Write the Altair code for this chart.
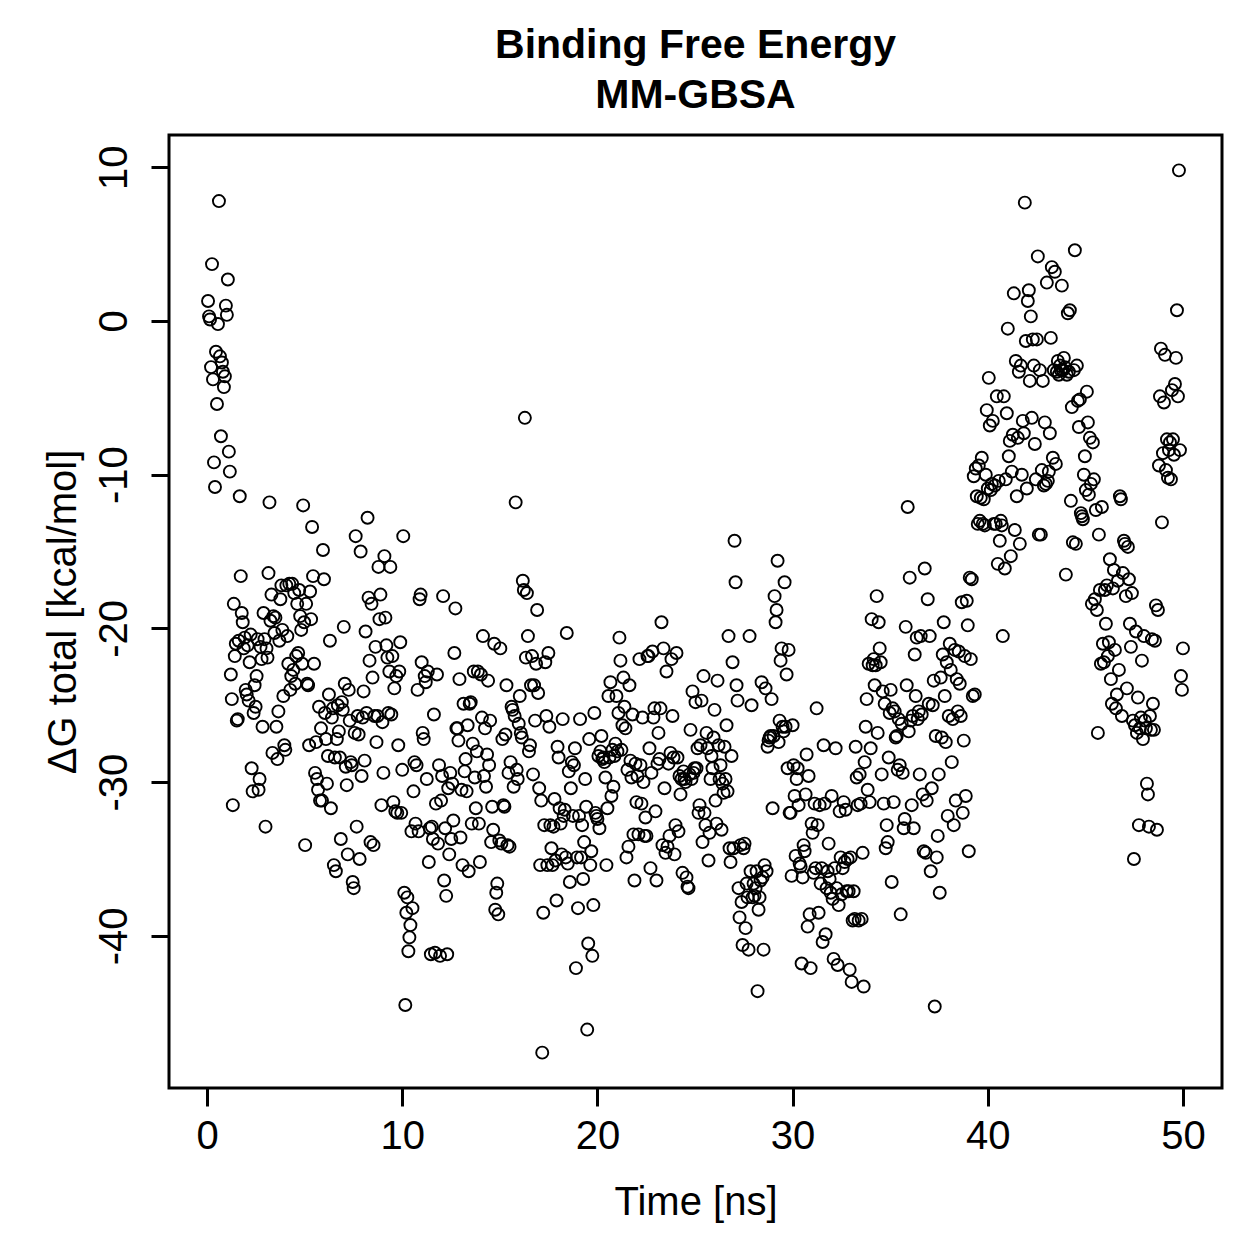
import altair as alt
import pandas as pd

# MM-GBSA binding free energy (kcal/mol) per frame, grouped in 10 ns blocks
dg_00_10 = [
    1.3, 0.3, 0.1, -3.0, 3.7, -3.8, -9.2, -10.8, -2.0, -5.4, -0.2, 7.8, -2.3, -7.5, -2.7, -3.3, -4.3, -3.6, 1.0, 0.4, 2.7, -8.5, -9.8,
    -23.0, -24.6, -31.5, -18.4, -21.8, -21.0, -26.0, -25.9, -20.8, -11.4, -16.6, -19.0, -19.6, -21.3, -20.6, -24.0, -24.3, -21.1, -24.7, -22.2, -20.4, -29.1, -30.6,
    -25.5, -23.7, -25.1, -23.1, -20.7, -30.5, -29.8, -21.2, -22.0, -26.4, -19.0, -20.7, -32.9, -21.3, -21.9, -16.4, -11.8, -19.5, -17.8, -28.1, -19.2,
    -20.3, -19.3, -26.4, -28.5, -25.4, -20.8, -18.1, -17.2, -20.1, -24.4, -27.6, -27.9, -17.2, -20.5, -22.3, -17.1, -24.0, -23.1, -17.1,
    -22.7, -17.7, -23.6, -21.8, -18.4, -21.6, -17.5, -19.2, -20.1, -22.3, -12.0, -19.6, -34.1, -18.4, -23.6, -23.7, -27.6, -17.6, -19.4,
    -13.4, -16.6, -22.3, -29.4, -27.4, -29.8, -30.5, -25.1, -31.2, -26.5, -31.2, -14.9, -16.8, -25.5, -27.2, -30.1, -28.3, -24.3, -20.8,
    -31.7, -25.8, -25.2, -35.4, -28.4, -35.8, -27.2, -25.0, -26.7, -28.4, -33.7, -24.8, -25.3, -19.9, -23.6, -29.0, -30.2, -34.7,
    -24.0, -26.0, -28.7, -28.9, -36.5, -36.9, -26.8, -14.0, -32.9, -25.7, -26.9, -35.0, -15.0, -29.6, -25.8, -24.1, -28.6, -20.2,
    -25.5, -12.8, -18.0, -22.1, -33.9, -18.4, -23.2, -34.1, -25.7, -21.2, -27.4, -25.7, -16.0, -19.4, -17.8, -31.5, -26.1, -29.4, -15.3, -19.3,
    -21.1, -21.9, -25.5, -22.8, -16.0, -25.6, -21.8, -31.3, -23.9, -31.9, -23.1, -32.0, -27.6, -22.8, -20.9, -32.0, -29.2,
]
dg_10_20 = [
    -14.0, -37.2, -44.5, -38.5, -37.5, -41.0, -40.1, -39.3, -33.2, -38.2, -30.6, -28.7, -32.7, -28.9, -24.0, -33.2,
    -18.1, -17.8, -22.2, -26.8, -27.2, -23.1, -23.5, -29.8, -22.8, -35.2, -33.0, -41.2, -32.9, -33.7, -25.6, -41.1, -31.4, -23.0,
    -34.0, -28.9, -41.3, -31.2, -29.6, -17.9, -36.4, -33.0, -37.4, -41.2, -30.4, -34.7, -29.4, -33.7, -30.1, -32.5, -21.6, -18.7, -26.5, -26.5,
    -27.3, -23.3, -33.6, -30.5, -35.4, -24.9, -29.3, -28.5, -30.6, -26.3, -35.8, -24.9, -24.8, -32.7, -27.5, -22.8, -29.7, -31.7, -28.0,
    -22.8, -32.7, -35.2, -23.0, -25.8, -20.5, -29.6, -26.5, -30.3, -28.2, -23.4, -28.9, -26.0, -33.9, -31.6, -33.1, -21.0, -38.3, -37.2, -36.6,
    -38.6, -33.8, -21.3, -34.0, -27.2, -31.5, -31.6, -26.9, -23.7, -34.1, -29.4, -34.2, -28.7, -25.1, -25.3, -30.3, -25.7, -11.8, -29.2, -29.8,
    -26.2, -24.4, -26.8, -27.1, -16.9, -17.5, -6.3, -21.9, -17.7, -20.5, -28.0, -27.6, -23.7, -21.8, -29.5, -23.7, -26.0, -22.3, -18.8,
    -24.2, -30.4, -35.4, -31.2, -47.6, -38.5, -32.8, -22.2, -25.7, -35.4, -21.6, -26.4, -32.8, -34.3, -35.4, -32.9, -31.1, -35.1, -37.7, -27.7,
    -28.4, -31.7, -32.7, -34.7, -25.9, -32.2, -31.8, -34.9, -20.3, -35.3, -29.3, -36.5, -30.4, -28.7, -32.2, -28.9, -27.8, -42.1, -34.9,
    -38.2, -32.2, -25.9, -34.9, -32.8, -36.3, -33.9, -29.8, -31.6, -46.1, -40.5, -27.2, -35.4, -34.5, -41.3, -38.0, -25.5, -32.0, -32.2, -32.4,
]
dg_20_30 = [
    -28.3, -33.0, -28.0, -27.0, -28.5, -28.4, -28.7, -29.7, -35.4, -31.7, -24.4, -28.4, -23.5, -30.9, -27.9, -30.3, -28.3, -27.5, -24.4, -28.0,
    -25.5, -20.6, -22.1, -27.9, -26.3, -23.2, -25.1, -26.5, -34.9, -29.2, -34.2, -23.7, -28.6, -29.7, -25.6, -33.4, -36.4, -28.8, -31.3,
    -29.6, -33.4, -22.0, -28.9, -31.4, -25.8, -30.0, -33.5, -32.3, -33.5, -21.8, -21.8, -27.8, -35.6, -29.4, -21.5, -25.8, -25.2, -31.9,
    -36.4, -28.8, -26.8, -28.5, -25.2, -19.6, -34.1, -21.3, -30.4, -34.6, -22.8, -34.2, -28.8, -33.5, -28.1, -22.0, -25.7, -28.4, -34.7, -32.8,
    -21.6, -28.4, -33.2, -29.6, -30.8, -29.8, -35.9, -29.3, -29.8, -30.0, -36.2, -36.8, -36.9, -29.5, -26.6, -29.8, -24.1, -29.4, -29.1, -24.8,
    -29.1, -27.8, -32.0, -31.5, -27.6, -24.7, -33.9, -23.1, -32.0, -32.8, -26.8, -27.8, -35.1, -33.3, -29.8, -28.3, -29.1, -27.1, -25.3,
    -31.2, -32.7, -23.4, -27.6, -29.8, -28.9, -33.1, -30.1, -30.7, -27.7, -29.8, -26.3, -30.6, -20.5, -34.3, -35.2, -28.3, -22.2, -34.3, -14.3,
    -17.0, -23.7, -24.7, -36.9, -38.8, -34.1, -37.8, -40.6, -34.3, -34.0, -39.5, -36.6, -37.5, -40.9, -20.5, -35.8, -25.0, -37.5, -36.6,
    -37.4, -36.9, -35.8, -43.6, -38.3, -37.5, -36.4, -23.5, -36.2, -40.9, -35.4, -23.9, -35.8, -27.7, -27.3, -27.1, -27.0, -24.6, -31.7, -27.0,
    -17.9, -19.6, -18.8, -15.6, -27.4, -26.0, -22.1, -21.3, -26.4, -26.7, -17.0, -26.4, -23.0, -29.1, -21.4, -32.0, -32.0, -36.1, -26.3,
]
dg_30_40 = [
    -28.9, -30.9, -34.8, -29.8, -29.1, -31.5, -35.3, -35.5, -41.8, -36.2, -34.1, -34.5, -30.8, -28.2, -39.4, -29.6, -38.6, -42.1, -32.7, -33.3,
    -35.9, -31.4, -35.6, -25.2, -32.8, -38.5, -31.5, -36.6, -35.6, -40.4, -27.6, -31.4, -39.9, -36.9, -35.8, -34.0, -36.3, -37.2, -30.9,
    -37.6, -41.5, -35.6, -27.8, -36.9, -41.9, -38.0, -31.9, -34.9, -37.3, -35.6, -31.3, -35.2, -31.8, -37.1, -35.0, -37.1, -42.2, -34.9,
    -43.0, -39.0, -37.1, -38.9, -27.7, -29.7, -31.5, -39.0, -29.5, -31.4, -38.9, -34.6, -43.3, -28.7, -26.4, -24.6, -30.5, -22.3, -31.3, -27.8,
    -19.4, -22.4, -22.0, -23.7, -22.4, -17.9, -26.8, -19.6, -21.3, -22.2, -29.5, -24.1, -31.4, -24.9, -34.3, -32.8, -33.9, -28.4, -25.5, -24.0,
    -36.5, -25.2, -31.3, -25.4, -27.1, -27.0, -29.2, -25.9, -28.9, -38.6, -26.2, -29.4, -33.0, -32.4, -19.9, -23.7, -12.1, -26.7, -16.7,
    -26.0, -31.5, -25.7, -33.0, -21.7, -24.4, -20.6, -25.9, -25.4, -29.5, -20.5, -25.6, -30.8, -34.5, -16.1, -34.6, -31.2, -18.1, -24.9, -20.5,
    -35.8, -30.4, -25.0, -23.4, -44.6, -27.0, -34.9, -33.5, -29.5, -37.2, -23.2, -27.1, -21.7, -19.6, -24.4, -27.4, -22.2, -32.2, -25.7,
    -21.0, -22.7, -28.7, -25.9, -32.8, -21.4, -31.2, -23.3, -25.4, -21.5, -23.6, -25.7, -18.3, -32.0, -27.3, -21.8, -30.9, -18.2, -19.8, -34.5,
    -16.7, -22.0, -16.8, -24.4, -10.1, -24.3, -9.6, -11.4, -13.2, -9.4, -13.0, -11.5, -8.9, -13.2, -11.6, -13.3, -10.0, -5.8, -10.9,
]
dg_40_50 = [
    -3.7, -6.8, -11.0, -10.6, -6.5, -13.2, -10.7, -13.2, -4.9, -15.8, -10.4, -14.3, -13.0, -13.3, -20.5, -4.9, -16.1, -10.3, -6.0, -0.5,
    -8.8, -7.8, -15.3, -9.8, -7.4, 1.8, -13.6, -2.6, -11.4, -7.6, -3.3, -14.5, -2.9, -10.0, -6.5, -7.3, 7.7, -1.3, -10.9,
    1.3, 2.0, -3.9, 0.3, -6.3, -1.2, -2.9, -8.0, -10.3, -1.2, 4.2, -13.9, -3.2, -13.9, -9.7, -3.9, -10.7, -6.6, -10.6, 2.5,
    -10.4, -9.8, -7.3, -1.1, 3.5, -8.9, -3.2, 3.2, -9.3, -3.3, -2.6, -3.5, -2.9, -3.2, 2.3, -3.2, -2.4, -3.0, -16.5,
    -3.5, 0.5, -3.3, 0.7, -11.7, -5.6, -14.4, -3.2, 4.6, -14.5, -2.9, -5.2, -6.9, -5.1, -12.5, -12.7, -12.9, -10.0, -8.8, -11.0,
    -4.6, -6.6, -11.3, -7.6, -10.6, -18.4, -7.9, -10.3, -18.1, -12.3, -18.8, -26.8, -13.9, -17.5, -22.3, -12.1, -21.0, -22.2, -17.5,
    -19.7, -17.2, -21.8, -20.9, -15.5, -23.3, -24.9, -17.4, -16.2, -21.4, -25.2, -24.3, -16.9, -22.7, -11.4, -11.6, -25.7, -16.4, -14.3,
    -14.5, -17.9, -23.9, -14.7, -16.8, -19.7, -21.2, -17.7, -26.0, -35.0, -26.3, -20.2, -26.8, -24.5, -32.8, -26.5, -25.8, -22.1, -27.2, -20.5,
    -26.0, -26.5, -30.1, -30.8, -32.9, -25.7, -26.6, -20.7, -24.9, -26.6, -20.8, -18.5, -33.1, -18.8, -9.4, -4.9, -1.8, -13.1, -8.6,
    -5.3, -2.2, -9.7, -7.7, -10.2, -8.4, -7.9, -10.3, -4.5, -7.7, -8.7, -4.1, -2.4, 0.7, -4.9, 9.8, -8.4, -23.1, -24.0, -21.3,
]

block_starts = [0, 10, 20, 30, 40]
blocks = [dg_00_10, dg_10_20, dg_20_30, dg_30_40, dg_40_50]

x_ticks = [0, 10, 20, 30, 40, 50]
y_ticks = [-40, -30, -20, -10, 0, 10]

# frames are evenly spaced in time inside each 10 ns block
rows = []
for start, vals in zip(block_starts, blocks):
    n = len(vals)
    for j, v in enumerate(vals):
        rows.append({"time": start + 10.0 * (j + 1) / n, "dg": v})
df = pd.DataFrame(rows)

FONT = "Liberation Sans"

points = alt.Chart(df).mark_point(
    shape="circle", filled=False, color="black", strokeWidth=1.9, size=145, opacity=1
).encode(
    x=alt.X(
        "time:Q",
        scale=alt.Scale(domain=[-1.95, 52.0], nice=False, zero=False),
        axis=alt.Axis(
            values=x_ticks, title="Time [ns]", grid=False, domain=False,
            tickSize=18, tickWidth=3, tickColor="black",
            labelFont=FONT, labelFontSize=40, labelColor="black",
            labelBaseline="alphabetic", labelPadding=42, labelExpr="datum.value + ''",
            labelFlush=False, labelOverlap=False,
            titleFont=FONT, titleFontSize=40, titleFontWeight="normal", titleColor="black",
            titleBaseline="alphabetic", titleY=126,
        ),
    ),
    y=alt.Y(
        "dg:Q",
        scale=alt.Scale(domain=[-49.9, 12.1], nice=False, zero=False),
        axis=alt.Axis(
            values=y_ticks, title="ΔG total [kcal/mol]", grid=False, domain=False,
            tickSize=18, tickWidth=3, tickColor="black",
            labelFont=FONT, labelFontSize=40, labelColor="black",
            labelAngle=270, labelAlign="center", labelBaseline="alphabetic",
            labelPadding=25, labelExpr="datum.value + ''",
            labelFlush=False, labelOverlap=False,
            titleFont=FONT, titleFontSize=40, titleFontWeight="normal", titleColor="black",
            titleAngle=270, titleAlign="center", titleBaseline="alphabetic",
            titleX=-94, titleY=476.5,
        ),
    ),
)

chart = points.properties(
    width=1053,
    height=953,
    title=alt.Title(
        ["Binding Free Energy", "MM-GBSA"],
        font=FONT, fontSize=41, fontWeight="bold", color="black",
        anchor="middle", frame="group", baseline="alphabetic",
        lineHeight=50, offset=27, dy=41,
    ),
    padding={"left": 169, "top": 135, "right": 37, "bottom": 171},
    autosize="none",
    background="white",
).configure_view(stroke="black", strokeWidth=3)

chart.save("out.html", embed_options={"renderer": "svg", "actions": False})
